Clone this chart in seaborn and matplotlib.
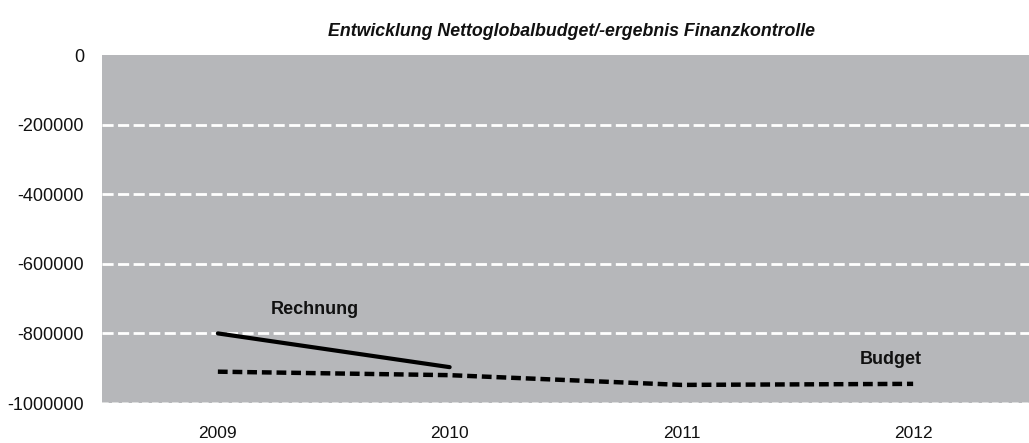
import matplotlib
matplotlib.use("Agg")
import matplotlib.pyplot as plt
import seaborn as sns
import pandas as pd

years = ["2009", "2010", "2011", "2012"]
rechnung = [-800000, -897000, None, None]
budget = [-910000, -920000, -948000, -945000]
yticks = [0, -200000, -400000, -600000, -800000, -1000000]

sns.set_theme(style="white")
plt.rcParams['font.family'] = ['Liberation Sans', 'DejaVu Sans']

fig = plt.figure(figsize=(10.29, 4.43), dpi=100)
ax = fig.add_axes([102/1029, 1-403/443, 1-102/1029, (403-55)/443])
ax.set_facecolor("#b6b7ba")

df_r = pd.DataFrame({"year": years[:2], "value": rechnung[:2]})
df_b = pd.DataFrame({"year": years, "value": budget})

for y in yticks[1:-1]:
    ax.axhline(y, color="white", lw=2, ls=(0, (4, 1.6)), zorder=1)
ax.axhline(-1000000, color="#e6e6e6", lw=1.2, ls=(0, (4, 2)), zorder=1)

sns.lineplot(data=df_r, x="year", y="value", ax=ax, color="black", lw=3, zorder=3)
sns.lineplot(data=df_b, x="year", y="value", ax=ax, color="black", lw=3.2,
             ls=(0, (2.2, 1.1)), zorder=3)

ax.set_xlim(-0.5, 3.5)
ax.set_ylim(-1000000, 0)
ax.set_yticks(yticks)
ax.set_yticklabels([str(v) for v in yticks])
ax.set_xlabel("")
ax.set_ylabel("")
for s in ax.spines.values():
    s.set_visible(False)
ax.tick_params(axis="y", length=0, pad=13, labelsize=13, labelcolor="#111111")
ax.tick_params(axis="x", length=0, pad=16.5, labelsize=12.5, labelcolor="#111111")

ax.text(0.42, -730000, "Rechnung", fontsize=13, fontweight="bold", ha="center", va="center",
        color="#111111")
ax.text(2.905, -874000, "Budget", fontsize=13, fontweight="bold", ha="center", va="center",
        color="#111111")

fig.text(572/1029, 1-32/443, "Entwicklung Nettoglobalbudget/-ergebnis Finanzkontrolle",
         fontsize=12.8, fontweight="bold", fontstyle="italic", ha="center", va="center",
         color="#111111")

fig.savefig("out.png", dpi=100)
